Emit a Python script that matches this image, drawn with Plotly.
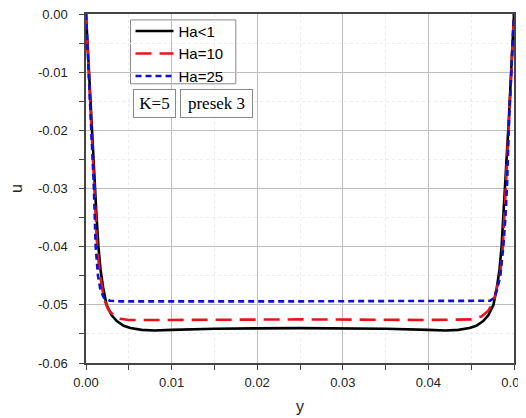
import plotly.graph_objects as go

# Ha<1
y_ha1 = [0, 0.0003, 0.0006, 0.0009, 0.0012, 0.00145, 0.0017, 0.002, 0.0024, 0.003, 0.0036,
         0.0044, 0.0052, 0.0065, 0.008, 0.010, 0.015, 0.025, 0.035, 0.040, 0.042, 0.0435,
         0.0448, 0.0456, 0.0464, 0.047, 0.0476, 0.048, 0.0483, 0.04855, 0.0488, 0.0491,
         0.0494, 0.0497, 0.05]
u_ha1 = [0, -0.009, -0.018, -0.027, -0.034, -0.040, -0.0440, -0.0470, -0.0500, -0.0518, -0.0528,
         -0.0536, -0.0540, -0.0543, -0.0544, -0.0543, -0.0541, -0.0540, -0.0541, -0.0543, -0.0544, -0.0543,
         -0.0540, -0.0536, -0.0528, -0.0518, -0.0500, -0.0470, -0.0440, -0.0400, -0.0340, -0.0270,
         -0.0180, -0.0090, 0]

# Ha=10
y_ha10 = [0, 0.0003, 0.0006, 0.0009, 0.00115, 0.0013, 0.0016, 0.0021, 0.0026, 0.0032, 0.004,
          0.005, 0.01, 0.025, 0.04, 0.045, 0.0462, 0.0470, 0.0476, 0.048, 0.0484, 0.0487,
          0.0489, 0.0491, 0.0494, 0.0497, 0.05]
u_ha10 = [0, -0.0095, -0.019, -0.028, -0.035, -0.040, -0.0445, -0.0490, -0.0508, -0.0518, -0.0524,
          -0.0526, -0.0526, -0.0525, -0.0526, -0.0525, -0.0520, -0.0510, -0.0495, -0.0470, -0.0445, -0.0400,
          -0.0350, -0.0280, -0.0190, -0.0095, 0]

# Ha=25
y_ha25 = [0, 0.0003, 0.0006, 0.0009, 0.00113, 0.0014, 0.0017, 0.0021, 0.0028, 0.004, 0.025,
          0.046, 0.0472, 0.0477, 0.048, 0.0484, 0.04875, 0.0490, 0.0492, 0.0494, 0.0497, 0.05]
u_ha25 = [0, -0.0095, -0.019, -0.029, -0.040, -0.045, -0.0475, -0.0488, -0.0493, -0.0494, -0.0494,
          -0.0494, -0.0493, -0.0488, -0.0475, -0.0450, -0.0400, -0.0350, -0.0290, -0.0190, -0.0095, 0]

x_ticks = [0, 0.01, 0.02, 0.03, 0.04, 0.05]
x_ticklabels = ["0.00", "0.01", "0.02", "0.03", "0.04", "0.05"]
y_ticks = [0, -0.01, -0.02, -0.03, -0.04, -0.05, -0.06]
y_ticklabels = ["0.00", "-0.01", "-0.02", "-0.03", "-0.04", "-0.05", "-0.06"]

fig = go.Figure()
fig.add_trace(go.Scatter(x=y_ha1, y=u_ha1, mode="lines", name="Ha<1",
                         line=dict(color="black", width=2.6)))
fig.add_trace(go.Scatter(x=y_ha10, y=u_ha10, mode="lines", name="Ha=10",
                         line=dict(color="#e8141c", width=2.6, dash="16px,8px")))
fig.add_trace(go.Scatter(x=y_ha25, y=u_ha25, mode="lines", name="Ha=25",
                         line=dict(color="#1010d0", width=2.6, dash="6px,4px")))

axis_common = dict(
    showline=True, linecolor="#444", linewidth=1.5, mirror=True,
    ticks="outside", ticklen=5, tickcolor="#444", tickwidth=1.2,
    showgrid=True, gridcolor="#bdbdbd", gridwidth=1,
    zeroline=False, automargin=False, ticklabeloverflow="allow",
    tickfont=dict(family="Arial, Liberation Sans", size=13, color="#222"),
)

fig.update_xaxes(
    range=[0, 0.05], tickvals=x_ticks, ticktext=x_ticklabels,
    minor=dict(dtick=0.005, tick0=0, ticks="outside", ticklen=5, tickcolor="#444",
               showgrid=True, gridcolor="#ececec", griddash="dot"),
    title=dict(text="y", font=dict(family="Arial, Liberation Sans", size=16, color="#222"), standoff=11),
    ticklabelstandoff=2,
    **axis_common,
)
fig.update_yaxes(
    range=[-0.06, 0], tickvals=y_ticks, ticktext=y_ticklabels,
    minor=dict(dtick=0.005, tick0=0, ticks="outside", ticklen=5, tickcolor="#444",
               showgrid=True, gridcolor="#ececec", griddash="dot"),
    title=dict(text="u", font=dict(family="Arial, Liberation Sans", size=16, color="#222"), standoff=22),
    ticklabelstandoff=9,
    **axis_common,
)

# the page body has an 8px margin, so the figure is shrunk by 8px to fit the window
fig.update_layout(
    width=518, height=410,
    margin=dict(l=78, r=12, t=6, b=55),
    paper_bgcolor="white", plot_bgcolor="white",
    showlegend=True,
    legend=dict(x=0.104, y=0.998, xanchor="left", yanchor="top",
                bgcolor="rgba(0,0,0,0)", borderwidth=0,
                font=dict(family="Arial, Liberation Sans", size=15, color="black"),
                itemwidth=38, tracegroupgap=0),
    shapes=[
        dict(type="rect", xref="paper", yref="paper", x0=0.104, x1=0.350, y0=0.800, y1=0.983,
             layer="between", fillcolor="white", line=dict(color="#888", width=1)),
    ],
    annotations=[
        dict(text="K=5", xref="paper", yref="paper", x=0.109, y=0.786,
             xanchor="left", yanchor="top", showarrow=False, width=35, height=21,
             font=dict(family="Liberation Serif, Times New Roman", size=17, color="black"),
             bordercolor="#888", borderwidth=1, borderpad=3, bgcolor="white"),
        dict(text="presek 3", xref="paper", yref="paper", x=0.219, y=0.786,
             xanchor="left", yanchor="top", showarrow=False, width=65, height=21,
             font=dict(family="Liberation Serif, Times New Roman", size=17, color="black"),
             bordercolor="#888", borderwidth=1, borderpad=3, bgcolor="white"),
    ],
)

fig.write_html("out.html")
